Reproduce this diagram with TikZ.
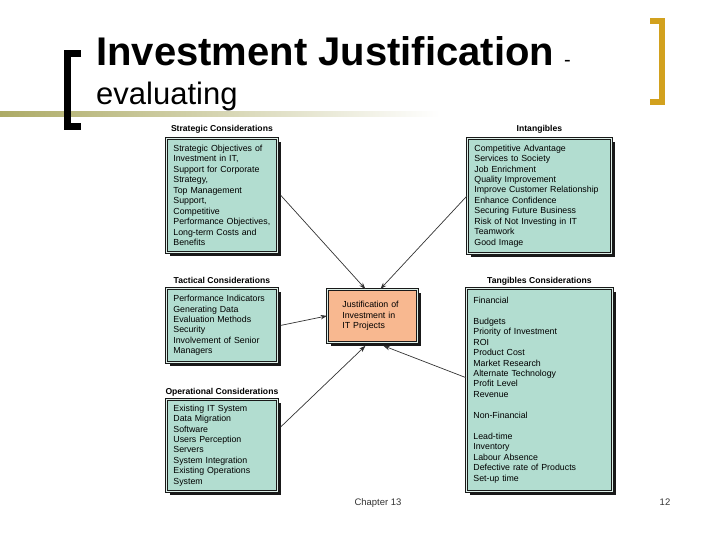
\documentclass[tikz,border=0pt]{standalone}
\usepackage{fontspec}
\setmainfont{Liberation Sans}
\usetikzlibrary{calc,positioning,shadows,arrows.meta}
\definecolor{boxteal}{HTML}{B2DDD0}
\definecolor{boxpeach}{HTML}{F8B890}
\definecolor{rimlight}{HTML}{DDEFE8}
\definecolor{barolive}{HTML}{ADAB66}
\definecolor{bargold}{HTML}{D2A11E}

\begin{document}
\begin{tikzpicture}[
                x=1pt,y=-1pt,
                infobox/.style={draw=black!90,line width=0.8pt,double=rimlight,double distance=1pt,
                    fill=boxteal,anchor=north west,align=left,inner xsep=7pt,
                    font=\fontsize{8.8}{10.45}\selectfont,
                    drop shadow={shadow xshift=3.5pt,shadow yshift=-3.5pt,fill=black!90,opacity=1}},
                boxhead/.style={anchor=base,font=\bfseries\fontsize{8.6}{10}\selectfont},
                link/.style={draw=black!80,line width=0.7pt,-{Stealth[length=6.5pt,width=4.5pt]}}
            ]
                \useasboundingbox (0,0) rectangle (720,540);
                % title and frame
                \shade[left color=barolive,right color=white] (0,112) rectangle (440,117);
                \draw[line width=7.5pt,miter limit=10] (81,53.5) -- (67.5,53.5) -- (67.5,126.5) -- (81,126.5);
                \draw[bargold,line width=6pt,miter limit=10] (650,21) -- (662,21) -- (662,102) -- (650,102);
                \node (title) [anchor=base west,inner sep=0pt,font=\bfseries\fontsize{40}{40}\selectfont] at (96,66) {Investment Justification};
                \node (dash) [anchor=base west,inner sep=0pt,font=\fontsize{20}{20}\selectfont] at (564,67) {-};
                \node (subtitle) [anchor=base west,inner sep=0pt,font=\fontsize{31}{31}\selectfont] at (96,105) {evaluating};
                % boxes
                \node (strat) [infobox,minimum width=111pt,minimum height=114pt,text width=97pt] at (166,138)
                    {Strategic Objectives of\\Investment in IT,\\Support for Corporate\\Strategy,\\Top Management\\Support,\\Competitive\\Performance Objectives,\\Long-term Costs and\\Benefits};
                \node (intang) [infobox,minimum width=144pt,minimum height=115pt,text width=130pt] at (467,138)
                    {Competitive Advantage\\Services to Society\\Job Enrichment\\Quality Improvement\\Improve Customer Relationship\\Enhance Confidence\\Securing Future Business\\Risk of Not Investing in IT\\Teamwork\\Good Image};
                \node (tact) [infobox,minimum width=111pt,minimum height=74pt,text width=97pt] at (166,288)
                    {Performance Indicators\\Generating Data\\Evaluation Methods\\Security\\Involvement of Senior\\Managers};
                \node (oper) [infobox,minimum width=111pt,minimum height=92pt,text width=97pt] at (166,399)
                    {Existing IT System\\Data Migration\\Software\\Users Perception\\Servers\\System Integration\\Existing Operations\\System};
                \node (tang) [infobox,minimum width=146pt,minimum height=203pt,text width=132pt] at (466,288)
                    {Financial\\[10.45pt]Budgets\\Priority of Investment\\ROI\\Product Cost\\Market Research\\Alternate Technology\\Profit Level\\Revenue\\[10.45pt]Non-Financial\\[10.45pt]Lead-time\\Inventory\\Labour Absence\\Defective rate of Products\\Set-up time};
                \node (just) [infobox,fill=boxpeach,minimum width=90pt,minimum height=53pt,inner xsep=15pt,text width=60pt] at (327,289)
                    {Justification of\\Investment in\\IT Projects};
                % headings
                \node (strat-h) [boxhead] at ([yshift=6pt]strat.north) {Strategic Considerations};
                \node (intang-h) [boxhead] at ([yshift=6pt]intang.north) {Intangibles};
                \node (tact-h) [boxhead] at ([yshift=5pt]tact.north) {Tactical Considerations};
                \node (oper-h) [boxhead] at ([yshift=4.5pt]oper.north) {Operational Considerations};
                \node (tang-h) [boxhead] at ([yshift=5pt]tang.north) {Tangibles Considerations};
                % arrows
                \draw[link] ([xshift=3pt]strat.east) -- ([xshift=-7pt]just.north);
                \draw[link] (intang.west) -- ([xshift=8pt]just.north);
                \draw[link] ([xshift=3pt]tact.east) -- (just.west);
                \draw[link] ($(oper.north east)!0.3!(oper.south east)+(3,0)$) -- ([xshift=-7pt,yshift=-3pt]just.south);
                \draw[link] ($(tang.north west)!0.44!(tang.south west)$) -- ([xshift=11pt,yshift=-3pt]just.south);
                % footer
                \node (chapter) [anchor=base,font=\fontsize{9.5}{10}\selectfont,text=black!80] at (378,505) {Chapter 13};
                \node (page) [anchor=base,font=\fontsize{9.5}{10}\selectfont,text=black!80] at (665,505) {12};
            \end{tikzpicture}
\end{document}
